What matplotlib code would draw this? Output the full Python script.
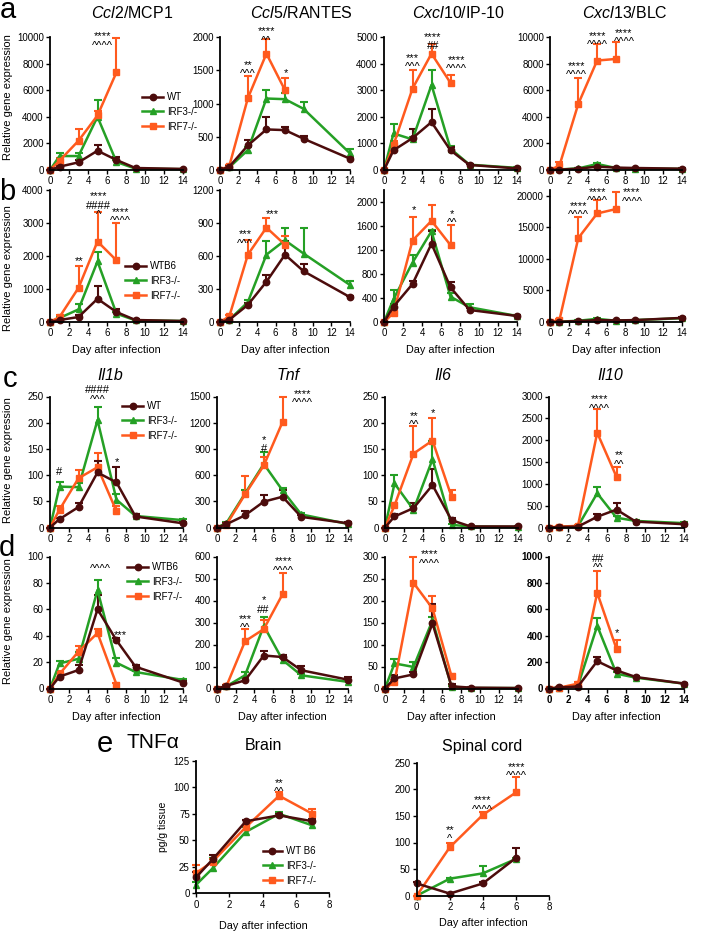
import numpy as np
import matplotlib
matplotlib.use("Agg")
import matplotlib.pyplot as plt
from matplotlib.lines import Line2D
from matplotlib.transforms import offset_copy

plt.rcParams["font.family"] = ["Liberation Sans", "DejaVu Sans"]
plt.rcParams["mathtext.fontset"] = "custom"
plt.rcParams["mathtext.it"] = "Liberation Sans:italic"
plt.rcParams["mathtext.rm"] = "Liberation Sans"

W, H = 708, 933

# === Days ===
DAYS = [0, 1, 3, 5, 7, 9, 14]
DAYS_IRF7 = [0, 1, 3, 5, 7]
DAYS_BRAIN = [0, 1, 3, 5, 7]
DAYS_SPINAL = [0, 2, 4, 6]

# === Row a (mRNA, first experiment) ===
CCL2 = dict(wt=[0, 250, 575, 1450, 750, 150, 80], wt_err=[0, 80, 150, 450, 200, 30, 20],
            irf3=[0, 1050, 1050, 4000, 600, 100, 60], irf3_err=[0, 200, 200, 1300, 150, 30, 20],
            irf7=[0, 700, 2200, 4100, 7350], irf7_err=[0, 200, 850, 300, 2550])
CCL5 = dict(wt=[0, 50, 370, 610, 600, 470, 170], wt_err=[0, 15, 80, 190, 40, 35, 20],
            irf3=[0, 40, 300, 1075, 1065, 920, 250], irf3_err=[0, 10, 40, 130, 90, 100, 60],
            irf7=[0, 60, 1080, 1750, 1200], irf7_err=[0, 10, 340, 220, 180])
CXCL10 = dict(wt=[0, 740, 1200, 1800, 740, 190, 60], wt_err=[0, 200, 350, 480, 130, 30, 20],
              irf3=[0, 1375, 1150, 3200, 800, 200, 80], irf3_err=[0, 350, 100, 550, 100, 30, 20],
              irf7=[0, 940, 3060, 4375, 3275], irf7_err=[0, 150, 700, 370, 290])
CXCL13 = dict(wt=[0, 30, 100, 250, 180, 150, 100], wt_err=[0, 10, 30, 60, 40, 30, 20],
              irf3=[0, 40, 120, 450, 150, 100, 80], irf3_err=[0, 10, 30, 80, 30, 20, 20],
              irf7=[0, 330, 4970, 8230, 8350], irf7_err=[0, 250, 1930, 1270, 1280])

# === Row b ===
CCL2_B = dict(wt=[0, 60, 150, 700, 300, 60, 30], wt_err=[0, 20, 50, 400, 80, 20, 10],
              irf3=[0, 120, 380, 1830, 250, 50, 30], irf3_err=[0, 40, 150, 270, 60, 20, 10],
              irf7=[0, 150, 1030, 2430, 1860], irf7_err=[0, 50, 650, 900, 1140])
CCL5_B = dict(wt=[0, 20, 155, 365, 610, 460, 225], wt_err=[0, 5, 20, 65, 120, 65, 15],
              irf3=[0, 20, 180, 610, 740, 620, 335], irf3_err=[0, 5, 15, 120, 110, 230, 35],
              irf7=[0, 50, 610, 855, 700], irf7_err=[0, 10, 130, 85, 80])
CXCL10_B = dict(wt=[0, 255, 630, 1300, 575, 200, 100], wt_err=[0, 40, 55, 205, 85, 30, 20],
                irf3=[0, 380, 986, 1507, 420, 245, 100], irf3_err=[0, 150, 134, 20, 55, 60, 20],
                irf7=[0, 150, 1353, 1680, 1277], irf7_err=[0, 30, 390, 265, 340])
CXCL13_B = dict(wt=[0, 50, 150, 300, 250, 300, 650], wt_err=[0, 20, 50, 80, 60, 60, 100],
                irf3=[0, 50, 200, 500, 200, 300, 600], irf3_err=[0, 20, 50, 100, 50, 60, 100],
                irf7=[0, 300, 13300, 17200, 17900], irf7_err=[0, 200, 3280, 2100, 2780])

# === Row c ===
IL1B = dict(wt=[0, 16, 39, 105, 86, 21, 8], wt_err=[0, 3, 8, 22, 30, 4, 2],
            irf3=[0, 78, 77, 205, 53, 22, 14], irf3_err=[0, 9, 8, 25, 10, 4, 2],
            irf7=[0, 34, 94, 115, 31], irf7_err=[0, 7, 15, 28, 10])
TNF = dict(wt=[0, 37, 140, 296, 352, 122, 48], wt_err=[0, 10, 45, 74, 74, 18, 10],
           irf3=[0, 50, 390, 728, 425, 150, 40], irf3_err=[0, 10, 40, 134, 25, 20, 10],
           irf7=[0, 30, 380, 710, 1207], irf7_err=[0, 10, 210, 102, 287])
IL6 = dict(wt=[0, 21, 37, 81, 14, 2, 2], wt_err=[0, 4, 10, 31, 5, 1, 1],
           irf3=[0, 84, 34, 130, 5, 2, 1], irf3_err=[0, 17, 7, 35, 2, 1, 1],
           irf7=[0, 42, 141, 166, 59], irf7_err=[0, 5, 52, 43, 12])
IL10 = dict(wt=[0, 10, 20, 246, 410, 135, 75], wt_err=[0, 5, 10, 54, 150, 20, 15],
            irf3=[0, 10, 30, 784, 224, 150, 100], irf3_err=[0, 5, 10, 134, 30, 20, 15],
            irf7=[0, 20, 37, 2170, 1160], irf7_err=[0, 10, 10, 547, 228])

# === Row d ===
IL1B_D = dict(wt=[0, 9, 14, 60, 36.5, 16.5, 4.5], wt_err=[0, 3, 3.5, 11, 2, 1.5, 1],
              irf3=[0, 19, 22.5, 74.5, 19.5, 12.5, 6.5], irf3_err=[0, 1.5, 5.5, 8, 3.5, 1, 1],
              irf7=[0, 11, 28, 42, 3], irf7_err=[0, 2, 4, 3, 1])
TNF_D = dict(wt=[0, 12, 37, 150, 143, 83, 40], wt_err=[0, 3, 15, 20, 10, 21, 12],
             irf3=[0, 10, 60, 285, 130, 60, 30], irf3_err=[0, 3, 15, 42, 10, 8, 6],
             irf7=[0, 10, 215, 270, 428], irf7_err=[0, 3, 55, 40, 99])
IL6_D = dict(wt=[0, 23, 32, 148, 5, 2, 1], wt_err=[0, 7, 5, 45, 5, 1, 1],
             irf3=[0, 57, 49, 155, 4, 1, 1], irf3_err=[0, 11, 12, 8, 2, 1, 1],
             irf7=[0, 15, 240, 182, 28], irf7_err=[0, 5, 58, 28, 6])
IL10_D = dict(wt=[0, 8, 15, 207, 137, 87, 37], wt_err=[0, 3, 5, 35, 10, 8, 5],
              irf3=[0, 5, 20, 475, 112, 82, 37], irf3_err=[0, 3, 5, 57, 10, 8, 5],
              irf7=[0, 5, 37, 725, 300], irf7_err=[0, 3, 10, 167, 67])

# === Row e (TNFa protein) ===
BRAIN = dict(wt=[15, 32, 68, 73.5, 68], wt_err=[5, 4.5, 1.5, 1.5, 2],
             irf3=[8, 23.5, 58, 75, 64], irf3_err=[3, 9.5, 4.5, 1.5, 3],
             irf7=[19, 30, 62.5, 92, 75], irf7_err=[8, 2, 2, 4, 5])
SPINAL = dict(wt=[23, 4, 23, 71], wt_err=[3, 1, 2, 18],
              irf3=[0, 32, 42, 69], irf3_err=[0, 2, 13, 2],
              irf7=[0, 91, 152, 194], irf7_err=[0, 9, 6, 30])

# === Significance marks (day, value of top line, text) ===
NOTES = {
    "ccl2": [(5.5, 10300, "****\n^^^^")],
    "ccl5": [(3.0, 1632, "**\n^^^"), (5.0, 2135, "****\n^^"), (7.1, 1510, "*")],
    "cxcl10": [(3.0, 4350, "***\n^^^"), (5.15, 5125, "****\n##"), (7.65, 4275, "****\n^^^^")],
    "cxcl13": [(2.83, 8100, "****\n^^^^"), (5.0, 10340, "****\n^^^^"), (7.85, 10590, "****\n^^^^")],
    "ccl2_b": [(3.1, 1940, "**"), (5.1, 3900, "****\n####\n^"), (7.4, 3430, "****\n^^^^")],
    "ccl5_b": [(2.7, 825, "***\n^^^"), (5.67, 1010, "***")],
    "cxcl10_b": [(3.13, 1917, "*"), (7.2, 1850, "*\n^^")],
    "cxcl13_b": [(3.0, 18950, "****\n^^^^"), (5.0, 21200, "****\n^^^^"), (8.7, 21060, "****\n^^^^")],
    "il1b": [(5.0, 264, "####\n^^^"), (7.1, 132, "*"), (1.0, 108, "#")],
    "tnf": [(9.1, 1570, "****\n^^^^"), (5.07, 1041, "*\n#")],
    "il6": [(3.04, 220, "**\n^^"), (5.0, 225, "*")],
    "il10": [(5.2, 3010, "****\n^^^^"), (7.3, 1727, "**\n^^")],
    "il1b_d": [(5.28, 92.5, "^^^^"), (7.4, 43.4, "***")],
    "tnf_d": [(7.08, 594, "****\n^^^^"), (4.98, 416, "*\n##"), (3.05, 332, "***\n^^")],
    "il6_d": [(4.72, 313, "****\n^^^^")],
    "il10_d": [(5.07, 990, "##\n^^"), (7.1, 446, "*")],
    "brain": [(5.0, 107.5, "**\n^^")],
    "spinal": [(2.0, 130, "**\n^"), (4.0, 186, "****\n^^^^"), (6.05, 249, "****\n^^^^")],
}

WT_C = "#4c0c0c"
IRF3_C = "#25a025"
IRF7_C = "#ff5a1e"
SERIES = [("irf3", IRF3_C, "^", 5.0), ("irf7", IRF7_C, "s", 4.3), ("wt", WT_C, "o", 4.6)]
SHIFT = {"*": 0.58, "^": 0.52, "#": 0.36}
NOTE_FS = 8

fig = plt.figure(figsize=(W / 100, H / 100), dpi=100)


def make_ax(x0, x1, y0, y1):
    # pixel box: x0..x1 left-right, y0 top, y1 bottom
    return fig.add_axes([x0 / W, 1 - y1 / H, (x1 - x0) / W, (y1 - y0) / H])


def style_ax(ax, xmax, xstep, ymax, ystep, ytop=None):
    ax.set_xlim(0, xmax)
    ax.set_ylim(0, ytop if ytop else ymax)
    ax.set_xticks(list(range(0, xmax + 1, xstep)))
    ax.set_yticks(list(range(0, ymax + 1, ystep)))
    for s in ["top", "right"]:
        ax.spines[s].set_visible(False)
    for s in ["left", "bottom"]:
        ax.spines[s].set_linewidth(1.3)
    ax.tick_params(direction="out", length=3, width=1, labelsize=7, pad=1.5)


def plot_series(ax, d, days_full, days_short):
    for key, color, marker, ms in SERIES:
        days = days_short if key == "irf7" else days_full
        err = d[key + "_err"]
        c = ax.errorbar(days, d[key], yerr=[[0] * len(err), err], color=color, marker=marker,
                        ms=ms, lw=1.8, elinewidth=1.5, capsize=2.6, capthick=1.5)
        line, caps, bars = c.lines
        line.set_clip_on(False)
        for cap in caps:
            cap.set_clip_on(False)
        caps[0].set_visible(False)
        for b in bars:
            b.set_clip_on(False)


def add_notes(ax, notes):
    for x, y, s in notes:
        # anchor the text box top so that the first line's glyphs are centred on y
        dy = (0.72 - SHIFT[s[0]]) * NOTE_FS
        tr = offset_copy(ax.transData, fig=fig, x=0, y=dy, units="points")
        ax.text(x, y, s, transform=tr, ha="center", va="top", fontsize=NOTE_FS,
                linespacing=0.92, multialignment="center")


def add_legend(ax, labels, x_px, y_px, hl=2.2):
    handles = [Line2D([], [], color=c, marker=m, ms=ms, lw=1.8) for _, c, m, ms in
               [SERIES[2], SERIES[0], SERIES[1]]]
    ax.legend(handles, labels, loc="upper left", bbox_to_anchor=(x_px / W, 1 - y_px / H),
              bbox_transform=fig.transFigure, frameon=False, fontsize=7, borderpad=0,
              borderaxespad=0, handlelength=hl, handletextpad=0.4, labelspacing=0.5)


# === Rows a-d ===
COLS_AB = [(50, 183), (220, 350), (384, 517), (550, 682)]
COLS_CD = [(50, 183), (217, 348), (385, 518), (549, 684)]
ROWS = {"a": (37, 170), "b": (189.5, 322), "c": (396.5, 527.5), "d": (556.5, 688.5)}

PANELS = [
    ("a", 0, CCL2, 10000, 2000, None, "ccl2"),
    ("a", 1, CCL5, 2000, 500, None, "ccl5"),
    ("a", 2, CXCL10, 5000, 1000, None, "cxcl10"),
    ("a", 3, CXCL13, 10000, 2000, None, "cxcl13"),
    ("b", 0, CCL2_B, 4000, 1000, None, "ccl2_b"),
    ("b", 1, CCL5_B, 1200, 300, None, "ccl5_b"),
    ("b", 2, CXCL10_B, 2000, 400, 2200, "cxcl10_b"),
    ("b", 3, CXCL13_B, 20000, 5000, 21000, "cxcl13_b"),
    ("c", 0, IL1B, 250, 50, None, "il1b"),
    ("c", 1, TNF, 1500, 300, None, "tnf"),
    ("c", 2, IL6, 250, 50, None, "il6"),
    ("c", 3, IL10, 3000, 500, None, "il10"),
    ("d", 0, IL1B_D, 100, 20, None, "il1b_d"),
    ("d", 1, TNF_D, 600, 100, None, "tnf_d"),
    ("d", 2, IL6_D, 300, 50, None, "il6_d"),
    ("d", 3, IL10_D, 1000, 200, None, "il10_d"),
]

axes = {}
for row, col, d, ymax, ystep, ytop, key in PANELS:
    cols = COLS_AB if row in "ab" else COLS_CD
    x0, x1 = cols[col]
    y0, y1 = ROWS[row]
    ax = make_ax(x0, x1, y0, y1)
    style_ax(ax, 14, 2, ymax, ystep, ytop)
    plot_series(ax, d, DAYS, DAYS_IRF7)
    add_notes(ax, NOTES[key])
    axes[(row, col)] = ax
    if row == "d" and col == 3:
        for lab in ax.get_xticklabels() + ax.get_yticklabels():
            lab.set_fontweight("bold")

add_legend(axes[("a", 0)], ["WT", "IRF3-/-", "IRF7-/-"], 142, 92)
add_legend(axes[("b", 0)], ["WTB6", "IRF3-/-", "IRF7-/-"], 125, 261)
add_legend(axes[("c", 0)], ["WT", "IRF3-/-", "IRF7-/-"], 122, 401)
add_legend(axes[("d", 0)], ["WTB6", "IRF3-/-", "IRF7-/-"], 127, 562)

# titles
TITLES_A = [r"$\mathit{Ccl2}$/MCP1", r"$\mathit{Ccl5}$/RANTES", r"$\mathit{Cxcl10}$/IP-10", r"$\mathit{Cxcl13}$/BLC"]
for x, t in zip([132, 301, 458, 625], TITLES_A):
    fig.text(x / W, 1 - 13 / H, t, ha="center", va="center", fontsize=11.5)
TITLES_C = ["Il1b", "Tnf", "Il6", "Il10"]
for x, t in zip([110, 288, 443, 610], TITLES_C):
    fig.text(x / W, 1 - 376 / H, t, ha="center", va="center", fontsize=11.5, style="italic")

# y labels
for yc in [97, 268, 460, 621]:
    fig.text(8 / W, 1 - yc / H, "Relative gene expression", rotation=90, ha="center", va="center", fontsize=8)

# x labels
for cols, yc in [(COLS_AB, 350), (COLS_CD, 717)]:
    for x0, x1 in cols:
        fig.text((x0 + x1) / 2 / W, 1 - yc / H, "Day after infection", ha="center", va="center", fontsize=7.8)

# panel letters (baseline positions)
for letter, x, y in [("a", 8, 18), ("b", 7, 200), ("c", 10, 387), ("d", 7, 556), ("e", 105, 752)]:
    fig.text(x / W, 1 - y / H, letter, ha="center", va="baseline", fontsize=21)

# === Row e ===
ax_b = make_ax(196, 329, 760.8, 893.3)
style_ax(ax_b, 8, 2, 125, 25)
plot_series(ax_b, BRAIN, DAYS_BRAIN, DAYS_BRAIN)
add_notes(ax_b, NOTES["brain"])
add_legend(ax_b, ["WT B6", "IRF3-/-", "IRF7-/-"], 263, 846, hl=1.95)

ax_s = make_ax(416.7, 549, 762.7, 895.7)
style_ax(ax_s, 8, 2, 250, 50)
plot_series(ax_s, SPINAL, DAYS_SPINAL, DAYS_SPINAL)
add_notes(ax_s, NOTES["spinal"])

fig.text(153 / W, 1 - 743 / H, "TNFα", ha="center", va="center", fontsize=15)
fig.text(263 / W, 1 - 746 / H, "Brain", ha="center", va="center", fontsize=11.5)
fig.text(482 / W, 1 - 746 / H, "Spinal cord", ha="center", va="center", fontsize=11.5)
fig.text(163 / W, 1 - 827 / H, "pg/g tissue", rotation=90, ha="center", va="center", fontsize=7.5)
fig.text(263 / W, 1 - 926 / H, "Day after infection", ha="center", va="center", fontsize=7.8)
fig.text(483 / W, 1 - 923 / H, "Day after infection", ha="center", va="center", fontsize=7.8)

fig.savefig("out.png", dpi=100)
